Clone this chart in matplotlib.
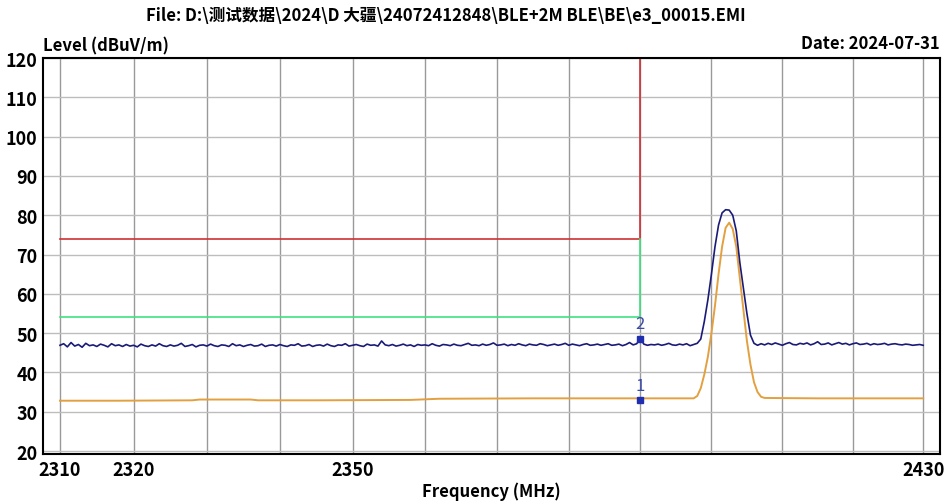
import numpy as np
import matplotlib

matplotlib.use("Agg")
import matplotlib.pyplot as plt
from matplotlib.ticker import FixedLocator, FixedFormatter, NullLocator

# peak (blue) trace, 0.5 MHz steps from 2310 to 2430
blue_level = [
    46.9, 47.3, 46.5, 47.6, 46.7, 47.1, 46.4, 47.4, 46.8, 47.0,
    46.6, 47.2, 46.9, 46.5, 47.3, 46.8, 47.0, 46.6, 47.1, 46.7,
    46.9, 46.5, 47.2, 46.8, 46.6, 47.0, 46.7, 47.3, 46.8, 46.6,
    47.0, 46.7, 46.9, 47.4, 46.6, 46.8, 47.1, 46.5, 46.9, 47.0,
    46.7, 47.2, 46.8, 46.6, 47.0, 46.9, 46.6, 47.3, 46.8, 47.0,
    46.6, 46.9, 47.1, 46.7, 46.8, 47.2, 46.6, 46.9, 47.0, 46.7,
    47.1, 46.8, 46.6, 47.0, 46.9, 47.3, 46.7, 46.8, 47.1, 46.6,
    46.9, 47.0, 46.7, 47.2, 46.8, 46.6, 47.0, 46.9, 47.3, 46.7,
    46.9, 47.1, 46.8, 46.6, 47.2, 46.9, 47.0, 46.7, 48.0, 47.0,
    46.8, 47.1, 46.7, 46.9, 47.2, 46.8, 47.0, 46.6, 47.1, 46.9,
    47.0, 46.8, 47.3, 46.9, 46.7, 47.1, 47.0, 46.8, 47.2, 46.9,
    46.8, 47.1, 47.4, 46.9, 47.0, 46.8, 47.2, 46.9, 47.1, 47.5,
    46.9, 47.0, 47.2, 46.8, 47.1, 46.9, 47.3, 47.0, 46.8, 47.2,
    47.0, 46.9, 47.3, 47.1, 46.8, 47.0, 47.2, 46.9, 47.1, 47.4,
    46.9, 47.2, 47.0, 46.8, 47.1, 47.3, 46.9, 47.0, 47.2, 46.9,
    47.1, 47.3, 46.9, 47.0, 47.2, 46.8, 47.1, 47.6, 47.0, 47.3,
    48.6, 47.2, 46.9, 47.1, 47.0, 47.2, 46.9, 47.1, 47.4, 47.0,
    46.9, 47.2, 47.0, 47.3, 46.8, 47.1,
    47.4, 48.5, 53.0, 58.5, 65.0, 72.0, 77.5, 80.6, 81.4, 81.3,
    80.0, 76.0, 68.0, 61.5, 55.0, 49.5, 47.4, 46.9, 47.3, 47.0,
    47.4, 47.1, 47.5, 47.2, 46.9, 47.3, 47.6, 47.1, 47.0, 47.4,
    47.2, 47.5, 47.0, 47.3, 47.8, 47.1, 47.2, 47.5, 47.0, 47.3,
    47.6, 47.2, 47.4, 47.0, 47.3, 47.5, 47.1, 47.2, 47.4, 47.0,
    47.3, 47.1, 47.2, 47.4, 47.0, 47.2, 47.3, 47.1, 47.0, 47.2,
    47.1, 46.9, 47.0, 47.1, 46.9,
]
blue_freq = np.linspace(2310, 2430, len(blue_level))

# average (orange) trace
orange_freq = [2310, 2318, 2328, 2329, 2336, 2337, 2345, 2358, 2362, 2375, 2390,
               2397.5, 2398, 2398.5, 2399, 2399.5, 2400, 2400.5, 2401, 2401.5,
               2402, 2402.5, 2403, 2403.5, 2404, 2404.5, 2405, 2405.5, 2406,
               2406.5, 2407, 2407.5, 2415, 2430]
orange_level = [32.8, 32.8, 32.9, 33.1, 33.1, 32.9, 32.9, 33.0, 33.3, 33.4, 33.4,
                33.4, 34.0, 36.0, 39.5, 44.0, 50.0, 57.0, 65.0, 72.0,
                76.8, 78.1, 76.5, 72.0, 64.0, 56.0, 48.0, 42.0, 37.5,
                35.0, 33.8, 33.5, 33.4, 33.4]

# limit lines (restricted band up to 2390 MHz)
limit_freq = [2310, 2390, 2390]
peak_limit = [74, 74, 120]
avg_limit = [54, 54, 74]

# markers
marker_freq = [2390, 2390]
marker_level = [33.0, 48.6]
marker_label = ["1", "2"]

grid_freq = list(range(2310, 2431, 10))
tick_text = {2310: "2310", 2320: "2320", 2350: "2350", 2430: "2430"}
y_ticks = list(range(20, 121, 10))

title = "File: D:\\测试数据\\2024\\D 大疆\\24072412848\\BLE+2M BLE\\BE\\e3_00015.EMI"
FONT = ["Liberation Sans Narrow", "Noto Sans CJK SC", "DejaVu Sans"]

fig = plt.figure(figsize=(9.47, 5.02), dpi=100)
ax = fig.add_axes([43 / 947, 1 - 455 / 502, 897 / 947, 396 / 502])
ax.set_xscale("log")
ax.set_xlim(2307.7, 2432.4)
ax.set_ylim(19.24, 120)

ax.xaxis.set_major_locator(FixedLocator(grid_freq))
ax.xaxis.set_major_formatter(FixedFormatter([tick_text.get(f, "") for f in grid_freq]))
ax.xaxis.set_minor_locator(NullLocator())
ax.set_yticks(y_ticks)
ax.tick_params(length=0, labelsize=13, pad=4)
for lab in ax.get_xticklabels() + ax.get_yticklabels():
    lab.set_family(FONT)
    lab.set_fontweight("bold")

ax.grid(True, axis="x", color="#999999", lw=1)
ax.grid(True, axis="y", color="#bdbdbd", lw=1)
ax.set_axisbelow(True)
for s in ax.spines.values():
    s.set_color("black")
    s.set_linewidth(1.5)

ax.plot(limit_freq, peak_limit, color="#d03030", lw=1.2)
ax.plot(limit_freq, avg_limit, color="#40e080", lw=1.2)
ax.plot(orange_freq, orange_level, color="#e3a040", lw=1.4)
ax.plot(blue_freq, blue_level, color="#1a1a78", lw=1.2)

for f, v, t in zip(marker_freq, marker_level, marker_label):
    ax.plot(f, v, "s", color="#1f2fb0", ms=4)
    ax.text(f, v + 1.6, t, color="#3a4aa8", fontsize=12, ha="center", va="bottom",
            family=FONT)

ax.text(0, 1.008, "Level (dBuV/m)", transform=ax.transAxes, ha="left", va="bottom",
        fontsize=12, fontweight="bold", family=FONT)
ax.text(1, 1.015, "Date: 2024-07-31", transform=ax.transAxes, ha="right", va="bottom",
        fontsize=12, fontweight="bold", family=FONT)
ax.set_xlabel("Frequency (MHz)", fontsize=12, fontweight="bold", family=FONT, labelpad=2)
fig.text(446 / 947, 1 - 16 / 502, title, ha="center", va="center",
         fontsize=12, fontweight="bold", family=FONT)

fig.savefig("out.png", dpi=100)
